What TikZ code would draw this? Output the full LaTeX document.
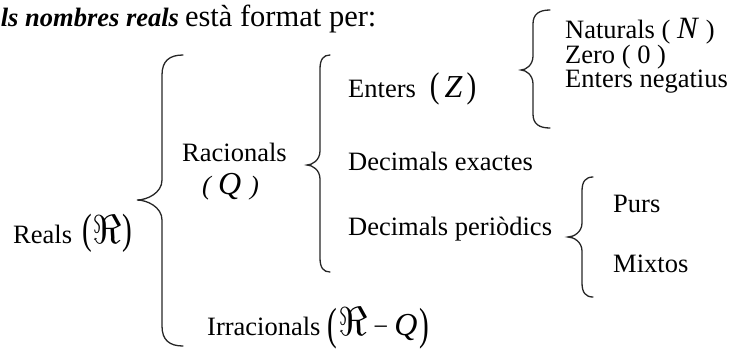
\documentclass[tikz,border=0pt]{standalone}
\usepackage{fontspec}
\setmainfont{Liberation Serif}
\usepackage{graphicx}
\newcommand\tparen[2]{\scalebox{1.1}[#2]{#1}}
\newcommand\bigfrak{{\fontsize{20}{20}\selectfont\scalebox{1.95}{$\Re$}}}
\newcommand\drawbrace[7]{%
  \draw[brace] (#1,#4) .. controls ({#2+0.35*(#1-#2)},#4) and (#2,{#4+0.3*#7}) .. (#2,{#4+#7})
    -- (#2,{#5-#7}) .. controls (#2,{#5-0.35*#7}) and ({#3+0.4*(#2-#3)},#5) .. (#3,#5)
    .. controls ({#3+0.4*(#2-#3)},#5) and (#2,{#5+0.35*#7}) .. (#2,{#5+#7})
    -- (#2,{#6-#7}) .. controls (#2,{#6-0.3*#7}) and ({#2+0.35*(#1-#2)},#6) .. (#1,#6);}
\tikzset{
  lbl/.style={anchor=base west, inner sep=0pt, font=\fontsize{26.5}{30}\selectfont},
  brace/.style={line width=1.3pt, line cap=round, draw=black!85}
}
\begin{document}
\begin{tikzpicture}[x=1pt, y=-1pt]
\useasboundingbox (0,0) rectangle (730,349);
\clip (0,0) rectangle (730,349);
% title
\node[lbl] (title) at (-17,26) {\textbf{\textit{Els nombres reals}}\hspace{6pt}{\fontsize{30.5}{31}\selectfont està format per:}};
% level 0
\node[lbl] (reals) at (13,243) {Reals\hspace{10pt}\tparen{(}{1.6}\hspace{1pt}\bigfrak\hspace{1pt}\tparen{)}{1.6}};
% level 1
\node[lbl] (rac) at (182,161) {Racionals};
\node[lbl] (q) at (202,194) {\textit{(\hspace{7pt}{\fontsize{32}{32}\selectfont Q}\hspace{9pt})}};
\node[lbl] (irr) at (207,335) {Irracionals\hspace{7pt}\raisebox{-4pt}{\tparen{(}{1.7}}\hspace{1pt}\bigfrak\hspace{6pt}−\hspace{6pt}{\fontsize{32}{32}\selectfont\textit{Q}}\hspace{2pt}\raisebox{-4pt}{\tparen{)}{1.7}}};
% level 2
\node[lbl] (ent) at (348,97) {Enters\hspace{14pt}\tparen{(}{1.35}\hspace{5pt}{\fontsize{32}{32}\selectfont\textit{Z}}\hspace{4pt}\tparen{)}{1.35}};
\node[lbl] (dex) at (348,170) {Decimals exactes};
\node[lbl] (dper) at (348,235) {Decimals periòdics};
% level 3
\node[lbl] (nat) at (565,38) {Naturals ( {\fontsize{31}{31}\selectfont\textit{N}} )};
\node[lbl] (zero) at (565,63) {Zero ( 0 )};
\node[lbl] (neg) at (565,87) {Enters negatius};
\node[lbl] (purs) at (613,212) {Purs};
\node[lbl] (mix) at (613,272) {Mixtos};
% braces
\drawbrace{183}{162}{137}{55}{200}{346}{20}
\drawbrace{330}{320}{307}{55}{165}{272}{14}
\drawbrace{550}{533}{521}{10}{70}{128}{14}
\drawbrace{593}{582}{568}{177}{237}{297}{14}
\end{tikzpicture}
\end{document}
